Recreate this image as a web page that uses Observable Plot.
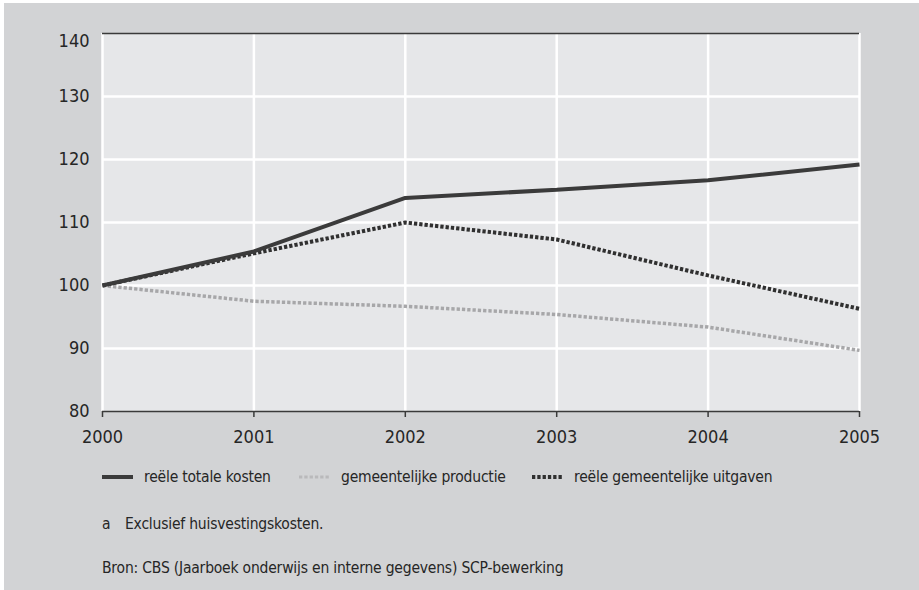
<!DOCTYPE html>
<html>
<head>
<meta charset="utf-8">
<script src="https://cdn.jsdelivr.net/npm/d3@7"></script>
<script src="https://cdn.jsdelivr.net/npm/@observablehq/plot@0.6"></script>
<style>
  html, body { margin: 0; padding: 0; background: #ffffff; }
  #panel {
    position: absolute; left: 4px; top: 3px; width: 915px; height: 587px;
    background: #d2d3d5; overflow: hidden;
    font-family: "Liberation Sans Narrow", "DejaVu Sans Condensed", sans-serif;
    color: #262626;
  }
  #chart { position: absolute; left: 0; top: 0; }
  .legend-item { position: absolute; display: flex; align-items: center; font-size: 15.5px; letter-spacing: -0.2px; }
  .legend-item svg { margin-right: 11px; }
  .note { position: absolute; font-size: 15.5px; letter-spacing: -0.2px; }
</style>
</head>
<body>
<div id="panel">
  <div id="chart"></div>
  <div id="legend"></div>
  <div class="note" style="left:98px; top:512px;"><span style="display:inline-block;width:23px;">a</span>Exclusief huisvestingskosten.</div>
  <div class="note" style="left:98px; top:556px;">Bron: CBS (Jaarboek onderwijs en interne gegevens) SCP-bewerking</div>
</div>
<script>
// Index numbers, 2000 = 100
const years = [2000, 2001, 2002, 2003, 2004, 2005];
const reeleTotaleKosten = [100, 105.4, 113.9, 115.2, 116.7, 119.2];
const gemeentelijkeProductie = [100, 97.5, 96.7, 95.4, 93.4, 89.7];
const reeleGemeentelijkeUitgaven = [100, 105.1, 110.0, 107.3, 101.6, 96.3];
const yTicks = [80, 90, 100, 110, 120, 130, 140];

const seriesNames = ["reële totale kosten", "gemeentelijke productie", "reële gemeentelijke uitgaven"];

const styles = {
  "reële totale kosten": { stroke: "#3b3b3b", strokeWidth: 4, strokeDasharray: null },
  "gemeentelijke productie": { stroke: "#a7a7a9", strokeWidth: 3.5, strokeDasharray: "3.3,2" },
  "reële gemeentelijke uitgaven": { stroke: "#303030", strokeWidth: 4, strokeDasharray: "3.3,2" }
};

const lineMark = (name, values) => Plot.line(years, {
  x: d => d,
  y: values,
  stroke: styles[name].stroke,
  strokeWidth: styles[name].strokeWidth,
  strokeDasharray: styles[name].strokeDasharray,
  strokeLinecap: "butt",
  strokeLinejoin: "miter"
});

const chart = Plot.plot({
  width: 915,
  height: 450,
  marginLeft: 98,
  marginRight: 60,
  marginTop: 30,
  marginBottom: 42,
  style: {
    background: "transparent",
    fontFamily: "'Liberation Sans Narrow', 'DejaVu Sans Condensed', sans-serif",
    fontSize: "18px",
    color: "#262626"
  },
  x: { domain: [2000, 2005] },
  y: { domain: [80, 140] },
  marks: [
    Plot.frame({ fill: "#e6e7e9", stroke: null }),
    Plot.gridX(years, { stroke: "#ffffff", strokeOpacity: 1, strokeWidth: 2.5 }),
    Plot.gridY(yTicks.slice(1, -1), { stroke: "#ffffff", strokeOpacity: 1, strokeWidth: 2.5 }),
    Plot.ruleY([140], { stroke: "#3a3a3a", strokeWidth: 1.5 }),
    lineMark("gemeentelijke productie", gemeentelijkeProductie),
    lineMark("reële gemeentelijke uitgaven", reeleGemeentelijkeUitgaven),
    lineMark("reële totale kosten", reeleTotaleKosten),
    Plot.ruleY([80], { stroke: "#3a3a3a", strokeWidth: 1.5 }),
    Plot.axisX(years, {
      tickFormat: "d", tickSize: 6, tickPadding: 13, stroke: "#3a3a3a", strokeWidth: 1.5, label: null
    }),
    Plot.axisY(yTicks.slice(0, -1), { tickSize: 0, tickPadding: 13, label: null }),
    Plot.axisY([140], { tickSize: 0, tickPadding: 13, dy: 8, label: null })
  ]
});
document.getElementById("chart").appendChild(chart);

// Legend row below the chart
const legendPos = { "reële totale kosten": 98, "gemeentelijke productie": 295, "reële gemeentelijke uitgaven": 528 };
const legend = document.getElementById("legend");
for (const name of seriesNames) {
  const s = styles[name];
  const item = document.createElement("div");
  item.className = "legend-item";
  item.style.left = legendPos[name] + "px";
  item.style.top = "462px";
  item.style.height = "24px";
  const dash = s.strokeDasharray ? ` stroke-dasharray="${s.strokeDasharray}"` : "";
  item.innerHTML = `<svg width="31" height="8"><line x1="0" x2="31" y1="4" y2="4" stroke="${name === "gemeentelijke productie" ? "#b9b9bb" : s.stroke}" stroke-width="${name === "gemeentelijke productie" ? 3 : 4}"${dash}/></svg><span>${name}</span>`;
  legend.appendChild(item);
}
</script>
</body>
</html>
